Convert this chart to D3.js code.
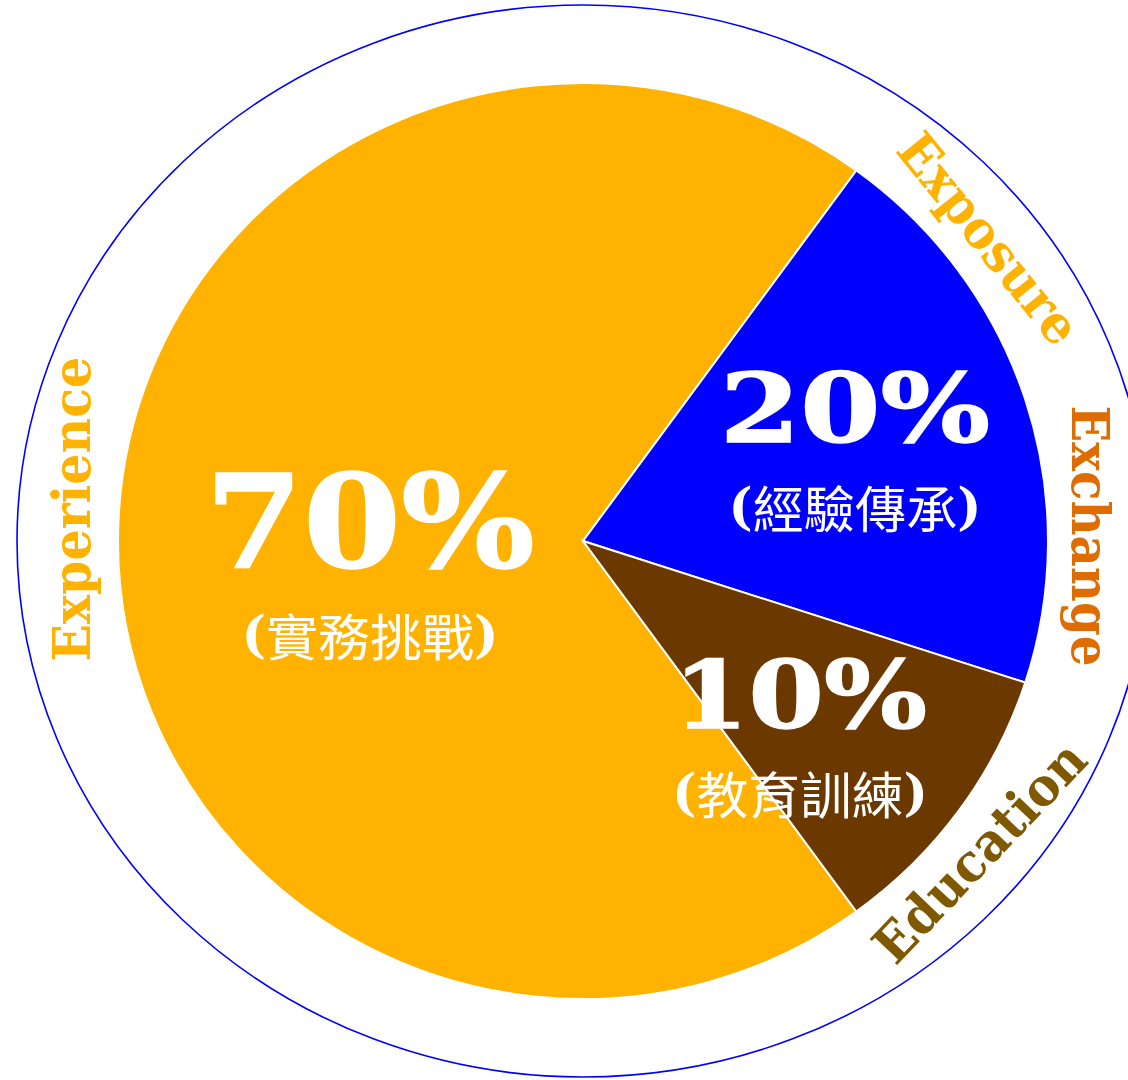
<!DOCTYPE html>
<html>
<head>
<meta charset="utf-8">
<script src="https://cdn.jsdelivr.net/npm/d3@7"></script>
<style>
    body { margin: 0; background: #fff; }
    #chart { width: 1128px; height: 1080px; }
</style>
</head>
<body>
<div id="chart"></div>
<script>
// 70-20-10 data
const categories = ["Experience", "Exposure", "Education"];
const zhLabels = ["實務挑戰", "經驗傳承", "教育訓練"];
const values = [70, 20, 10];
const sliceColors = ["#FFB300", "#0000FF", "#6B3800"];

// words round the ring
const ringWords = ["Experience", "Exposure", "Exchange", "Education"];
const ringColors = ["#FFB300", "#FFB300", "#DE6C00", "#7F5800"];

// layout
const width = 1128;
const height = 1080;
const cx = 583, cy = 541;
const pieRx = 465, pieRy = 458;
const ringRx = 566, ringRy = 536;
const startDeg = -216;

// label spots, offsets from centre (pct baseline / chinese middle)
const pctPos = [[-213, 26], [272, -99], [217, 187]];
const zhDy = [93, -35, 251];
const pctSize = [130, 96, 94];
const pctLen = [330, 270, 254];
const zhLen = [257, 253, 256];

// ring word spots: angle clockwise from top, radius, rotation, length
const ringAngle = [273.7, 53.4, 89.4, 128.3];
const ringRadius = [494, 488, 489, 522];
const ringRotate = [-90, 51, 90, -46.4];
const ringLen = [305, 255, 261, 282];

const svg = d3.select("#chart")
    .append("svg")
    .attr("width", width)
    .attr("height", height);

// outer ring
svg.append("ellipse")
    .attr("cx", cx)
    .attr("cy", cy)
    .attr("rx", ringRx)
    .attr("ry", ringRy)
    .attr("fill", "none")
    .attr("stroke", "#0000FF")
    .attr("stroke-width", 1.6);

// pie
const pie = d3.pie()
    .sort(null)
    .value(d => d)
    .startAngle(startDeg * Math.PI / 180)
    .endAngle((startDeg + 360) * Math.PI / 180);

const arc = d3.arc()
    .innerRadius(0)
    .outerRadius(pieRy);

const pieGroup = svg.append("g")
    .attr("transform", `translate(${cx},${cy}) scale(${pieRx / pieRy},1)`);

pieGroup.selectAll("path")
    .data(pie(values))
    .enter()
    .append("path")
    .attr("d", arc)
    .attr("fill", (d, i) => sliceColors[i])
    .attr("stroke", "#fff")
    .attr("stroke-width", 2)
    .attr("vector-effect", "non-scaling-stroke");

// percent labels
const labels = svg.append("g").attr("transform", `translate(${cx},${cy})`);

labels.selectAll(".pct")
    .data(values)
    .enter()
    .append("text")
    .attr("class", "pct")
    .attr("x", (d, i) => pctPos[i][0])
    .attr("y", (d, i) => pctPos[i][1])
    .attr("text-anchor", "middle")
    .attr("font-family", "'DejaVu Serif', serif")
    .attr("font-weight", "bold")
    .attr("font-size", (d, i) => pctSize[i])
    .attr("textLength", (d, i) => pctLen[i])
    .attr("lengthAdjust", "spacingAndGlyphs")
    .attr("fill", "#fff")
    .attr("stroke", "#fff")
    .attr("stroke-width", 1.5)
    .text(d => d + "%");

const zh = labels.selectAll(".zh")
    .data(zhLabels)
    .enter()
    .append("text")
    .attr("class", "zh")
    .attr("x", (d, i) => pctPos[i][0])
    .attr("y", (d, i) => zhDy[i])
    .attr("text-anchor", "middle")
    .attr("dominant-baseline", "central")
    .attr("font-family", "'Noto Sans CJK TC', sans-serif")
    .attr("font-size", 50)
    .attr("textLength", (d, i) => zhLen[i])
    .attr("lengthAdjust", "spacingAndGlyphs")
    .attr("fill", "#fff");

zh.append("tspan")
    .attr("font-family", "'DejaVu Serif', serif")
    .attr("font-weight", "bold")
    .text("(");
zh.append("tspan").text(d => d);
zh.append("tspan")
    .attr("font-family", "'DejaVu Serif', serif")
    .attr("font-weight", "bold")
    .text(")");

// words round the ring
const rad = deg => deg * Math.PI / 180;

svg.append("g")
    .selectAll("text")
    .data(ringWords)
    .enter()
    .append("text")
    .attr("transform", (d, i) => {
        const x = cx + ringRadius[i] * Math.sin(rad(ringAngle[i]));
        const y = cy - ringRadius[i] * Math.cos(rad(ringAngle[i]));
        return `translate(${x},${y}) rotate(${ringRotate[i]})`;
    })
    .attr("text-anchor", "middle")
    .attr("font-family", "'DejaVu Serif', serif")
    .attr("font-weight", "bold")
    .attr("font-size", 52)
    .attr("textLength", (d, i) => ringLen[i])
    .attr("lengthAdjust", "spacingAndGlyphs")
    .attr("fill", (d, i) => ringColors[i])
    .text(d => d);
</script>
</body>
</html>
